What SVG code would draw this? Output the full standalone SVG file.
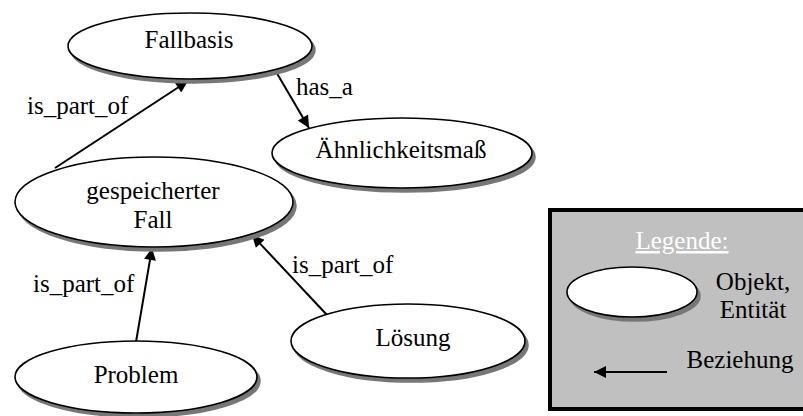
<svg xmlns="http://www.w3.org/2000/svg" width="803" height="416" viewBox="0 0 803 416">
<style>
.body { fill: #ffffff; stroke: #000000; stroke-width: 1.6; }
.edge { stroke: #000000; stroke-width: 2; fill: none; }
</style>
<defs>
<marker id="arr" viewBox="0 0 10 10" refX="10" refY="5" markerWidth="7" markerHeight="6" orient="auto" markerUnits="strokeWidth">
<path d="M0,0 L10,5 L0,10 z" fill="#000000"/>
</marker>
</defs>
<rect width="803" height="416" fill="#ffffff"/>
<g font-family="'Liberation Serif', 'Times New Roman', serif" font-size="25" fill="#000000">

<g id="legend">
<rect x="550" y="210" width="260" height="199" fill="#c0c0c0" stroke="#000000" stroke-width="4"/>
<text x="682" y="249" text-anchor="middle" fill="#ffffff" text-decoration="underline">Legende:</text>
<ellipse cx="635" cy="296" rx="65" ry="25" fill="#777777" stroke="#777777" stroke-width="1.5"/>
<ellipse class="body" cx="632" cy="292" rx="65" ry="25"/>
<text x="753" y="290" text-anchor="middle">Objekt,</text>
<text x="753" y="318" text-anchor="middle">Entität</text>
<text x="740" y="368" text-anchor="middle">Beziehung</text>
<line x1="667" y1="372" x2="594" y2="372" class="edge" marker-end="url(#arr)"/>
</g>

<g id="connectors" marker-end="url(#arr)">
<line x1="55" y1="168" x2="188" y2="81" class="edge"/>
<line x1="275" y1="70" x2="309" y2="128" class="edge"/>
<line x1="136" y1="342" x2="152" y2="248" class="edge"/>
<line x1="327" y1="315" x2="252" y2="235" class="edge"/>
</g>
<g id="edge-labels">
<text x="27" y="114">is_part_of</text>
<text x="296" y="95">has_a</text>
<text x="33" y="292">is_part_of</text>
<text x="292" y="273">is_part_of</text>
</g>

<g id="node-fallbasis">
<ellipse cx="193" cy="50" rx="122" ry="33" fill="#777777" stroke="#777777" stroke-width="1.5"/>
<ellipse class="body" cx="190" cy="46" rx="122" ry="33"/>
<text x="189" y="48" text-anchor="middle">Fallbasis</text>
</g>

<g id="node-aehnlichkeitsmass">
<ellipse cx="405" cy="157" rx="130" ry="35" fill="#777777" stroke="#777777" stroke-width="1.5"/>
<ellipse class="body" cx="402" cy="153" rx="130" ry="35"/>
<text x="401" y="158" text-anchor="middle">Ähnlichkeitsmaß</text>
</g>

<g id="node-gespeicherter-fall">
<ellipse cx="157" cy="206" rx="139" ry="45" fill="#777777" stroke="#777777" stroke-width="1.5"/>
<ellipse class="body" cx="154" cy="202" rx="139" ry="45"/>
<text x="153" y="199" text-anchor="middle">gespeicherter</text>
<text x="153" y="228" text-anchor="middle">Fall</text>
</g>

<g id="node-problem">
<ellipse cx="139" cy="381" rx="121" ry="36" fill="#777777" stroke="#777777" stroke-width="1.5"/>
<ellipse class="body" cx="136" cy="377" rx="121" ry="36"/>
<text x="136" y="383" text-anchor="middle">Problem</text>
</g>

<g id="node-loesung">
<ellipse cx="411" cy="345" rx="117" ry="37" fill="#777777" stroke="#777777" stroke-width="1.5"/>
<ellipse class="body" cx="408" cy="341" rx="117" ry="37"/>
<text x="413" y="346" text-anchor="middle">Lösung</text>
</g>
</g>
</svg>
